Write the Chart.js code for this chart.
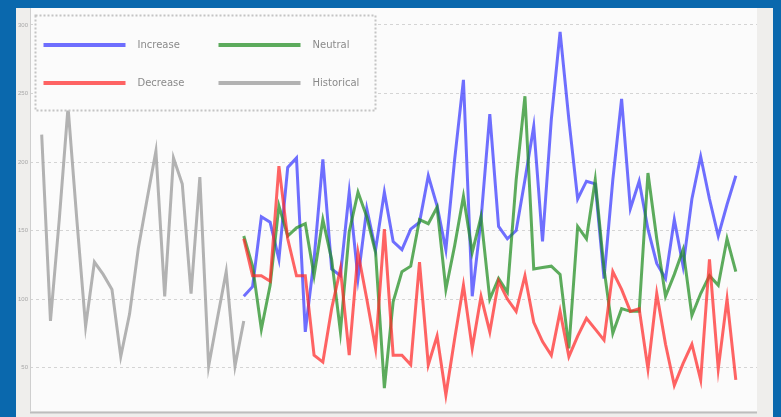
<!DOCTYPE html>
<html><head><meta charset="utf-8">
<style>
html,body{margin:0;padding:0;background:#0a68ad;overflow:hidden;width:781px;height:417px}
#wrap{position:absolute;left:0;top:0;width:781px;height:417px}
</style>
<script src="https://cdn.jsdelivr.net/npm/chart.js@4/dist/chart.umd.min.js"></script>
</head><body><div id="wrap"><canvas id="c" width="781" height="417"></canvas></div>
<script>
// Period index (x positions of samples)
const periods = [0,1,2,3,4,5,6,7,8,9,10,11,12,13,14,15,16,17,18,19,
  20,21,22,23,24,25,26,27,28,29,30,31,32,33,34,35,36,37,38,39,
  40,41,42,43,44,45,46,47,48,49,50,51,52,53,54,55,56,57,58,59,
  60,61,62,63,64,65,66,67,68,69,70,71,72,73,74,75,76,77,78,79];
const forecastStart = 23; // first period of the three scenario series

const historical = [220,84,158,240,158,80,127,118,107,58,89,137,173,208,102,203,184,104,189,51,86,120,51,84];

const increase = [102,109,160,156,129,196,203,76,129,202,122,117,178,115,166,136,178,142,136,151,
  156,190,168,136,202,260,102,158,235,153,144,150,187,226,142,231,295,231,173,186,
  184,115,187,246,166,186,151,126,115,158,124,173,204,173,146,169,190];

const neutral = [146,124,78,110,168,146,152,155,117,158,129,76,149,178,160,134,35,98,120,124,
  158,155,167,107,139,175,134,160,100,115,105,187,248,122,123,124,118,64,153,144,
  187,122,75,93,91,91,192,144,102,118,136,88,104,117,110,144,120];

const decrease = [144,117,117,113,197,144,117,117,59,54,93,122,59,134,100,64,151,59,59,52,
  127,52,73,30,71,110,64,102,76,113,100,91,117,83,69,59,91,58,73,86,
  78,70,120,107,91,93,49,104,67,37,53,67,41,129,49,100,41];

const seriesNames = ['Increase','Neutral','Decrease','Historical'];
const yTickValues = [50,100,150,200,250,300];

const colors = {
  Increase: 'rgba(55,55,255,0.72)',
  Neutral: 'rgba(30,140,30,0.72)',
  Decrease: 'rgba(255,40,40,0.72)',
  Historical: 'rgba(165,165,165,0.85)'
};

function toPoints(values, start) {
  return values.map((v, i) => ({x: periods[start + i], y: v}));
}

const datasets = [
  {label: 'Historical', data: toPoints(historical, 0), borderColor: colors.Historical},
  {label: 'Decrease', data: toPoints(decrease, forecastStart), borderColor: colors.Decrease},
  {label: 'Neutral', data: toPoints(neutral, forecastStart), borderColor: colors.Neutral},
  {label: 'Increase', data: toPoints(increase, forecastStart), borderColor: colors.Increase}
].map(d => Object.assign(d, {borderWidth: 3, pointRadius: 0, tension: 0, fill: false}));

const framePlugin = {
  id: 'frame',
  beforeDraw(chart) {
    const ctx = chart.ctx, a = chart.chartArea;
    ctx.save();
    ctx.fillStyle = '#0a68ad';
    ctx.fillRect(0, 0, chart.width, chart.height);
    ctx.fillStyle = '#efeeec';
    ctx.fillRect(16, 8, 757, chart.height - 8);
    ctx.fillStyle = '#fbfbfb';
    ctx.fillRect(a.left, a.top, a.right - a.left, a.bottom - a.top);
    ctx.restore();
  },
  afterDraw(chart) {
    const ctx = chart.ctx, a = chart.chartArea;
    ctx.save();
    // axis lines
    ctx.strokeStyle = '#cfcfcf';
    ctx.lineWidth = 1;
    ctx.beginPath();
    ctx.moveTo(a.left + 0.5, a.top); ctx.lineTo(a.left + 0.5, a.bottom);
    ctx.stroke();
    ctx.strokeStyle = '#bdbdbd';
    ctx.lineWidth = 2;
    ctx.beginPath();
    ctx.moveTo(a.left, a.bottom + 1); ctx.lineTo(a.right, a.bottom + 1);
    ctx.stroke();
    // legend box
    const bx = a.left + 5.5, by = a.top + 7.5, bw = 340, bh = 95;
    ctx.fillStyle = '#fbfbfb';
    ctx.fillRect(bx, by, bw, bh);
    ctx.setLineDash([2, 2]);
    ctx.strokeStyle = '#c4c4c4';
    ctx.lineWidth = 2;
    ctx.strokeRect(bx, by, bw, bh);
    ctx.setLineDash([]);
    const cols = [bx + 8, bx + 183];
    const rows = [by + 29.5, by + 67.5];
    ctx.font = '10px "DejaVu Sans", sans-serif';
    ctx.textBaseline = 'middle';
    seriesNames.forEach((name, i) => {
      const cx = cols[i % 2], cy = rows[Math.floor(i / 2)];
      ctx.strokeStyle = colors[name];
      ctx.lineWidth = 4;
      ctx.beginPath();
      ctx.moveTo(cx, cy); ctx.lineTo(cx + 82, cy);
      ctx.stroke();
      ctx.fillStyle = '#8a8a8a';
      ctx.fillText(name, cx + 94, cy);
    });
    ctx.restore();
  }
};

new Chart(document.getElementById('c'), {
  type: 'line',
  data: {datasets},
  plugins: [framePlugin],
  options: {
    responsive: false,
    devicePixelRatio: 1,
    animation: false,
    events: [],
    layout: {padding: {left: 16, top: 8, right: 24, bottom: 4}},
    plugins: {legend: {display: false}, tooltip: {enabled: false}},
    scales: {
      x: {type: 'linear', display: false, min: -1.33, max: 81.41},
      y: {
        min: 18, max: 312.4,
        afterFit(scale) { scale.width = 14; },
        afterBuildTicks(scale) { scale.ticks = yTickValues.map(v => ({value: v})); },
        ticks: {font: {size: 6}, color: '#a8a8a8', padding: 2},
        grid: {color: '#d4d4d4', drawTicks: false, borderDash: [3, 3], lineWidth: 1},
        border: {display: false, dash: [3, 3]}
      }
    }
  }
});
</script>
</body></html>
